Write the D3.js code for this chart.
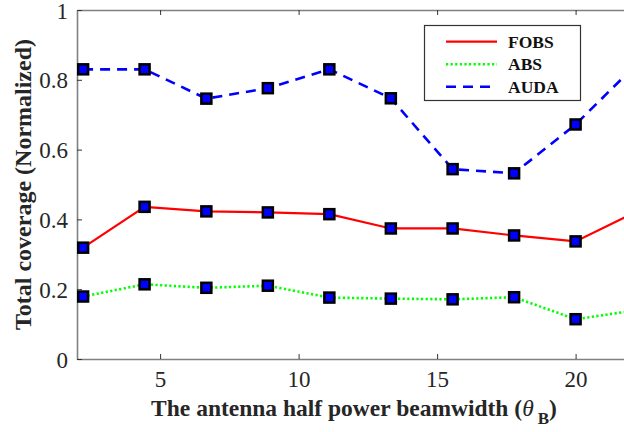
<!DOCTYPE html>
<html>
<head>
<meta charset="utf-8">
<script src="https://cdn.jsdelivr.net/npm/d3@7"></script>
<style>
  html, body { margin: 0; padding: 0; background: #fff; }
  svg { display: block; }
  text { font-family: "Liberation Serif", "DejaVu Serif", "Times New Roman", serif; }
</style>
</head>
<body>
<svg id="chart" width="624" height="432"></svg>
<script>
// Half power beamwidth samples (degrees)
const beamwidth = [2.22, 4.44, 6.67, 8.89, 11.11, 13.33, 15.56, 17.78, 20.0, 22.22];
// Normalized total coverage for each scheme
const fobs = [0.319, 0.436, 0.423, 0.420, 0.415, 0.374, 0.374, 0.354, 0.337, 0.423];
const abs  = [0.179, 0.214, 0.204, 0.210, 0.176, 0.173, 0.171, 0.177, 0.114, 0.140];
const auda = [0.830, 0.830, 0.746, 0.776, 0.830, 0.747, 0.544, 0.532, 0.672, 0.846];
const xTicks = [5, 10, 15, 20];
const yTicks = [0, 0.2, 0.4, 0.6, 0.8, 1];
const seriesNames = ["FOBS", "ABS", "AUDA"];

const series = [
  { name: seriesNames[0], values: fobs, color: "#ff0000", dash: null, width: 2.2 },
  { name: seriesNames[1], values: abs,  color: "#00ff00", dash: "2.2,2.4", width: 2.6 },
  { name: seriesNames[2], values: auda, color: "#0000ff", dash: "10,7", width: 2.6 }
];

const serif = '"Liberation Serif", "DejaVu Serif", "Times New Roman", serif';
const svg = d3.select("#chart").attr("font-family", serif);
const mLeft = 77, mTop = 10, mBottom = 359, mRight = 631;

const x = d3.scaleLinear().domain([2, 22]).range([mLeft, mRight]);
const y = d3.scaleLinear().domain([0, 1]).range([mBottom, mTop]);

svg.append("defs").append("clipPath").attr("id", "plotClip")
  .append("rect").attr("x", mLeft).attr("y", mTop)
  .attr("width", mRight - mLeft).attr("height", mBottom - mTop);

const axisColor = "#808080";
const labelColor = "#262626";

// Axes with inward ticks
const gx = svg.append("g").attr("transform", `translate(0,${mBottom})`)
  .call(d3.axisBottom(x).tickValues(xTicks).tickSizeInner(-5).tickSizeOuter(0).tickPadding(12));
const gxTop = svg.append("g").attr("transform", `translate(0,${mTop})`)
  .call(d3.axisTop(x).tickValues(xTicks).tickSizeInner(-5).tickSizeOuter(0).tickFormat(""));
const gy = svg.append("g").attr("transform", `translate(${mLeft},0)`)
  .call(d3.axisLeft(y).tickValues(yTicks).tickSizeInner(-5).tickSizeOuter(0).tickPadding(9)
    .tickFormat(d => String(+d.toFixed(1))));

[gx, gxTop, gy].forEach(g => {
  g.attr("font-family", serif).attr("font-size", 23);
  g.select(".domain").attr("stroke", axisColor).attr("stroke-width", 1.6);
  g.selectAll(".tick line").attr("stroke", "#333").attr("stroke-width", 1);
  g.selectAll(".tick text").attr("fill", labelColor);
});
gx.selectAll(".tick text").attr("dy", "0.71em");
gy.selectAll(".tick text").attr("dy", "0.35em");

// Lines
const line = d3.line().x((d, i) => x(beamwidth[i])).y(d => y(d));
const plot = svg.append("g").attr("clip-path", "url(#plotClip)");
series.forEach(s => {
  plot.append("path").datum(s.values)
    .attr("d", line)
    .attr("fill", "none")
    .attr("stroke", s.color)
    .attr("stroke-width", s.width)
    .attr("stroke-dasharray", s.dash);
});

// Square markers
const ms = 10;
series.forEach(s => {
  plot.append("g").selectAll("rect").data(s.values).join("rect")
    .attr("x", (d, i) => x(beamwidth[i]) - ms / 2)
    .attr("y", d => y(d) - ms / 2)
    .attr("width", ms).attr("height", ms)
    .attr("fill", "#0000ff")
    .attr("stroke", "#000")
    .attr("stroke-width", 2.5);
});

// Axis titles
svg.append("text")
  .attr("transform", `translate(31,${(mTop + mBottom) / 2}) rotate(-90)`)
  .attr("text-anchor", "middle")
  .attr("fill", labelColor)
  .attr("font-size", 24).attr("font-weight", "bold")
  .text("Total coverage (Normalized)");

const xt = svg.append("text")
  .attr("x", (mLeft + mRight) / 2).attr("y", 416)
  .attr("text-anchor", "middle")
  .attr("fill", labelColor)
  .attr("font-size", 23.5).attr("font-weight", "bold");
xt.append("tspan").text("The antenna half power beamwidth (");
xt.append("tspan").attr("font-style", "italic").attr("font-weight", "normal").text("θ");
xt.append("tspan").attr("dx", 4).attr("dy", 8).attr("font-size", 17).text("B");
xt.append("tspan").attr("dy", -8).text(")");

// Legend
const lg = svg.append("g");
lg.append("rect").attr("x", 424.5).attr("y", 25.5).attr("width", 156).attr("height", 75)
  .attr("fill", "#fff").attr("stroke", "#333").attr("stroke-width", 1.2);
const rowY = [41.7, 64.3, 86.7];
series.forEach((s, i) => {
  lg.append("line")
    .attr("x1", 446).attr("x2", 497).attr("y1", rowY[i]).attr("y2", rowY[i])
    .attr("stroke", s.color).attr("stroke-width", s.width)
    .attr("stroke-dasharray", s.dash);
  lg.append("text")
    .attr("x", 508).attr("y", rowY[i]).attr("dy", "0.35em")
    .attr("fill", "#111")
    .attr("font-size", 17.5).attr("font-weight", "bold")
    .text(s.name);
});
</script>
</body>
</html>
